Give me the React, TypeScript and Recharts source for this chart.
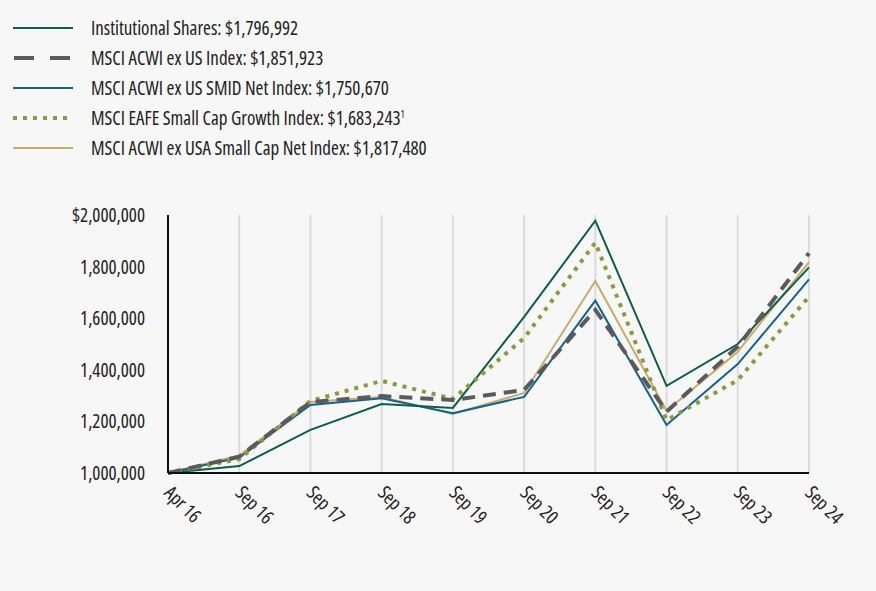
import { LineChart, Line, XAxis, YAxis, CartesianGrid } from 'recharts'

const periods = ['Apr 16', 'Sep 16', 'Sep 17', 'Sep 18', 'Sep 19', 'Sep 20', 'Sep 21', 'Sep 22', 'Sep 23', 'Sep 24']

const institutional = [1000000, 1027000, 1167000, 1267000, 1252000, 1605000, 1978000, 1338000, 1500000, 1796992]
const acwiExUs = [1000000, 1063000, 1275000, 1298000, 1283000, 1322000, 1632000, 1238000, 1490000, 1851923]
const acwiSmid = [1000000, 1060000, 1264000, 1290000, 1232000, 1295000, 1668000, 1186000, 1422000, 1750670]
const eafeGrowth = [1000000, 1054000, 1279000, 1357000, 1287000, 1523000, 1893000, 1205000, 1360000, 1683243]
const acwiSmallCap = [1000000, 1068000, 1275000, 1295000, 1229000, 1310000, 1744000, 1241000, 1470000, 1817480]

const yTicks = [1000000, 1200000, 1400000, 1600000, 1800000, 2000000]

const FONT = '"Open Sans", sans-serif'
const textStyle = { fontFamily: FONT, fontStretch: 'condensed' as any }

const series = [
  { key: 'acwiSmallCap', label: 'MSCI ACWI ex USA Small Cap Net Index: $1,817,480', color: '#c9ab6b', width: 2, dash: undefined as string | undefined },
  { key: 'acwiSmid', label: 'MSCI ACWI ex US SMID Net Index: $1,750,670', color: '#13628f', width: 2, dash: undefined },
  { key: 'institutional', label: 'Institutional Shares: $1,796,992', color: '#0c5e48', width: 2, dash: undefined },
  { key: 'eafeGrowth', label: 'MSCI EAFE Small Cap Growth Index: $1,683,243', color: '#8a9b3e', width: 4, dash: '4 6' },
  { key: 'acwiExUs', label: 'MSCI ACWI ex US Index: $1,851,923', color: '#5a5a5a', width: 4, dash: '13 8' },
]

const legendOrder = ['institutional', 'acwiExUs', 'acwiSmid', 'eafeGrowth', 'acwiSmallCap']

const data = periods.map((p, i) => ({
  period: p,
  institutional: institutional[i],
  acwiExUs: acwiExUs[i],
  acwiSmid: acwiSmid[i],
  eafeGrowth: eafeGrowth[i],
  acwiSmallCap: acwiSmallCap[i],
}))

function fmtY(v: number) {
  const s = v.toLocaleString('en-US')
  return v === 2000000 ? '$' + s : s
}

function YTick({ x, y, payload }: any) {
  return (
    <text x={x} y={y} dy={7} textAnchor="end" fontSize={19} fill="#222" style={textStyle}>
      {fmtY(payload.value)}
    </text>
  )
}

function XTick({ x, y, payload }: any) {
  return (
    <g transform={`translate(${x - 5},${y + 13})`}>
      <text transform="rotate(45)" textAnchor="start" fontSize={19} fill="#222" style={textStyle}>
        {payload.value}
      </text>
    </g>
  )
}

function Legend() {
  return (
    <div style={{ position: 'absolute', left: 0, top: 13 }}>
      {legendOrder.map((k) => {
        const s = series.find((x) => x.key === k)!
        const isEafe = k === 'eafeGrowth'
        return (
          <div key={k} style={{ display: 'flex', alignItems: 'center', height: 30 }}>
            <svg width={91} height={30}>
              <line
                x1={k === 'acwiExUs' ? 14 : 13}
                x2={73}
                y1={15}
                y2={15}
                stroke={s.color}
                strokeWidth={k === 'acwiExUs' || isEafe ? 4 : 2}
                strokeDasharray={k === 'acwiExUs' ? '20 16' : isEafe ? '4 6' : undefined}
              />
            </svg>
            <span style={{ ...textStyle, fontSize: 19, color: '#222' }}>
              {isEafe ? (
                <>
                  MSCI EAFE Small Cap Growth Index: $1,683,243<sup style={{ fontSize: 10 }}>1</sup>
                </>
              ) : (
                s.label
              )}
            </span>
          </div>
        )
      })}
    </div>
  )
}

export default function App() {
  return (
    <div style={{ position: 'absolute', left: 0, top: 0, width: 876, height: 591, background: '#f7f7f7' }}>
      <Legend />
      <LineChart
        width={876}
        height={591}
        data={data}
        margin={{ top: 215, right: 67, bottom: 0, left: 0 }}
        style={{ position: 'absolute', left: 0, top: 0 }}
      >
        <CartesianGrid horizontal={false} stroke="#dcdcdc" strokeWidth={2} />
        <XAxis
          dataKey="period"
          height={118}
          interval={0}
          tick={<XTick />}
          tickLine={false}
          axisLine={{ stroke: '#111', strokeWidth: 2 }}
        />
        <YAxis
          width={168}
          domain={[1000000, 2000000]}
          ticks={yTicks}
          tickLine={false}
          tickSize={0}
          tickMargin={23}
          axisLine={{ stroke: '#111', strokeWidth: 2 }}
          tick={<YTick />}
        />
        {series.map((s) => (
          <Line
            key={s.key}
            type="linear"
            dataKey={s.key}
            stroke={s.color}
            strokeWidth={s.width}
            strokeDasharray={s.dash}
            dot={false}
            isAnimationActive={false}
          />
        ))}
      </LineChart>
    </div>
  )
}
